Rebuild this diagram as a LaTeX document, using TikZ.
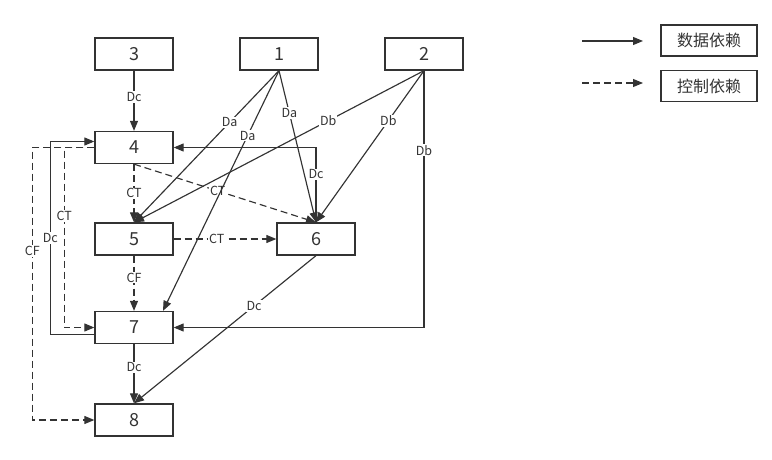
\documentclass[tikz,border=0pt]{standalone}
\usepackage{fontspec}
\setmainfont{Noto Sans CJK SC}
\usetikzlibrary{arrows.meta}
\definecolor{linegray}{HTML}{333333}

\begin{document}
\begin{tikzpicture}[x=1pt,y=-1pt]
                      \tikzstyle{block}=[draw=linegray,line width=1.3pt,minimum width=78pt,minimum height=32pt,inner sep=0pt,text=linegray,font=\fontsize{18}{18}\selectfont]
                      \tikzstyle{key}=[block,minimum width=96pt,minimum height=31pt,font=\fontsize{16}{16}\selectfont]
                      \tikzstyle{data}=[draw=linegray,line width=1.15pt,-{Triangle[length=10pt,width=8pt]}]
                      \tikzstyle{ctrl}=[data,dash pattern=on 7pt off 4pt]
                      \tikzstyle{lbl}=[fill=white,inner sep=1pt,text=linegray,font=\fontsize{12.5}{12.5}\selectfont]
                      \useasboundingbox (0,0) rectangle (772,460);
                      \node[block] (n3) at (134,54) {3};
                      \node[block] (n1) at (279,54) {1};
                      \node[block] (n2) at (424,54) {2};
                      \node[block] (n4) at (134,147.5) {4};
                      \node[block] (n5) at (134,239) {5};
                      \node[block] (n6) at (316,239) {6};
                      \node[block] (n7) at (134,327.5) {7};
                      \node[block] (n8) at (134,420) {8};
                      \draw[data] (n3) -- (n4) node [pos=0.44, lbl] {Dc};
                      \draw[ctrl] (n4) -- (n5) node [pos=0.5, lbl] {CT};
                      \draw[ctrl] (n5) -- (n7) node [pos=0.4, lbl] {CF};
                      \draw[data] (n7) -- (n8) node [pos=0.39, lbl] {Dc};
                      \draw[ctrl] (n5) -- (n6) node [pos=0.42, lbl] {CT};
                      \draw[ctrl] (n4.south) -- (n6.north) node [pos=0.46, lbl] {CT};
                      \draw[data] (n1.south) -- (n5.north) node [pos=0.34, lbl] {Da};
                      \draw[data] (n1.south) -- ([xshift=29pt]n7.north) node [pos=0.27, lbl] {Da};
                      \draw[data] (n1.south) -- (n6.north) node [pos=0.28, lbl] {Da};
                      \draw[data] (n2.south) -- (n5.north) node [pos=0.33, lbl] {Db};
                      \draw[data] (n2.south) -- (n6.north) node [pos=0.33, lbl] {Db};
                      \draw[data] (n2.south) |- node [pos=0.155, lbl] {Db} (n7.east);
                      \draw[data] (n6.north) |- node [pos=0.32, lbl] {Dc} (n4.east);
                      \draw[data] (n6.south) -- (n8.north) node [pos=0.34, lbl] {Dc};
                      % loops on the left side
                      \draw[data] ([yshift=-7pt]n7.west) -- ++(-44,0) |- node [pos=0.25, lbl] {Dc} ([yshift=6pt]n4.west);
                      \draw[ctrl] (n4.west) -- ++(-30,0) |- node [pos=0.19, lbl] {CT} (n7.west);
                      \draw[ctrl] (n4.west) -- ++(-62,0) |- node [pos=0.19, lbl] {CF} (n8.west);
                      % legend
                      \coordinate (s1) at (582,41);
                      \coordinate (e1) at (643,41);
                      \coordinate (s2) at (582,83);
                      \coordinate (e2) at (643,83);
                      \draw[data] (s1) -- (e1);
                      \draw[ctrl] (s2) -- (e2);
                      \node[key] (k1) at (709,40.5) {数据依赖};
                      \node[key] (k2) at (709,86) {控制依赖};
\end{tikzpicture}
\end{document}
